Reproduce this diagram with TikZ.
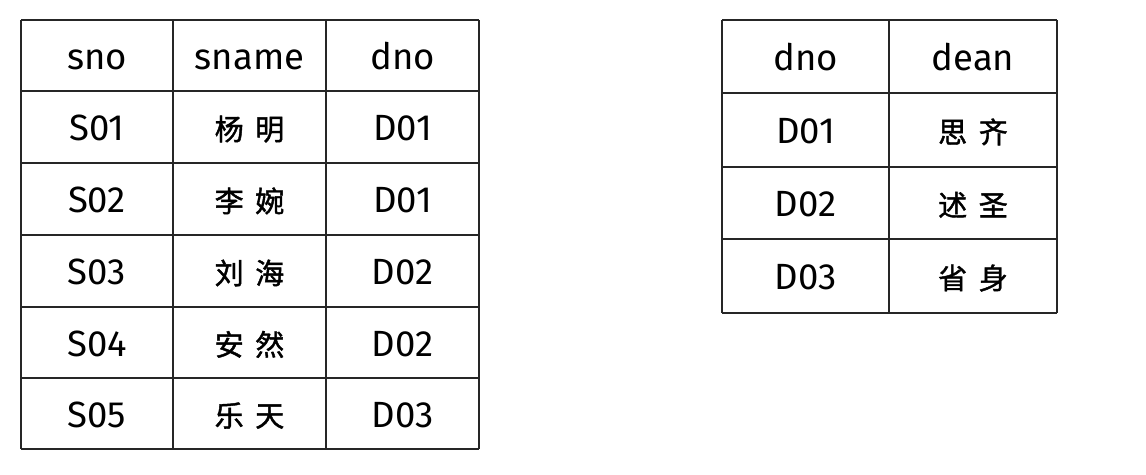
\documentclass[tikz,border=0pt]{standalone}
\usepackage{fontspec}
\setmainfont{Fira Sans}
\newfontfamily\cjk[FakeBold=1.5]{Noto Sans CJK SC}
\begin{document}
\begin{tikzpicture}[x=1pt,y=-1pt,
  grid/.style={draw=black!85,line width=1.3pt},
  txt/.style={anchor=base,inner sep=0pt,font=\fontsize{36.5}{42}\selectfont},
  cn/.style={anchor=base,inner sep=0pt,font=\cjk\fontsize{29}{34}\selectfont}]
\useasboundingbox (0,0) rectangle (1146,474);
% left table grid
\foreach \y in {20,91,163,235,307,378,449} \draw[grid] (21,\y) -- (479,\y);
\foreach \x in {21,173,326,479} \draw[grid] (\x,20) -- (\x,449);
% right table grid
\foreach \y in {20,93,167,239,313} \draw[grid] (722,\y) -- (1057,\y);
\foreach \x in {722,889,1057} \draw[grid] (\x,20) -- (\x,313);
% left table text
\node[txt] (h1) at (97,69) {sno};
\node[txt] (h2) at (249.5,69) {sname};
\node[txt] (h3) at (402.5,69) {dno};
\node[txt] (a1) at (97,140.5) {S01};
\node[cn]  (a2) at (249.5,140) {杨\hspace{0.4em}明};
\node[txt] (a3) at (402.5,140.5) {D01};
\node[txt] (b1) at (97,212.5) {S02};
\node[cn]  (b2) at (249.5,212) {李\hspace{0.4em}婉};
\node[txt] (b3) at (402.5,212.5) {D01};
\node[txt] (c1) at (97,284.5) {S03};
\node[cn]  (c2) at (249.5,284) {刘\hspace{0.4em}海};
\node[txt] (c3) at (402.5,284.5) {D02};
\node[txt] (d1) at (97,356) {S04};
\node[cn]  (d2) at (249.5,355.5) {安\hspace{0.4em}然};
\node[txt] (d3) at (402.5,356) {D02};
\node[txt] (e1) at (97,427) {S05};
\node[cn]  (e2) at (249.5,426.5) {乐\hspace{0.4em}天};
\node[txt] (e3) at (402.5,427) {D03};
% right table text
\node[txt] (rh1) at (805.5,70) {dno};
\node[txt] (rh2) at (973,70) {dean};
\node[txt] (r11) at (805.5,143.5) {D01};
\node[cn]  (r12) at (973,143) {思\hspace{0.4em}齐};
\node[txt] (r21) at (805.5,216.5) {D02};
\node[cn]  (r22) at (973,216) {述\hspace{0.4em}圣};
\node[txt] (r31) at (805.5,289.5) {D03};
\node[cn]  (r32) at (973,289) {省\hspace{0.4em}身};
\end{tikzpicture}
\end{document}
